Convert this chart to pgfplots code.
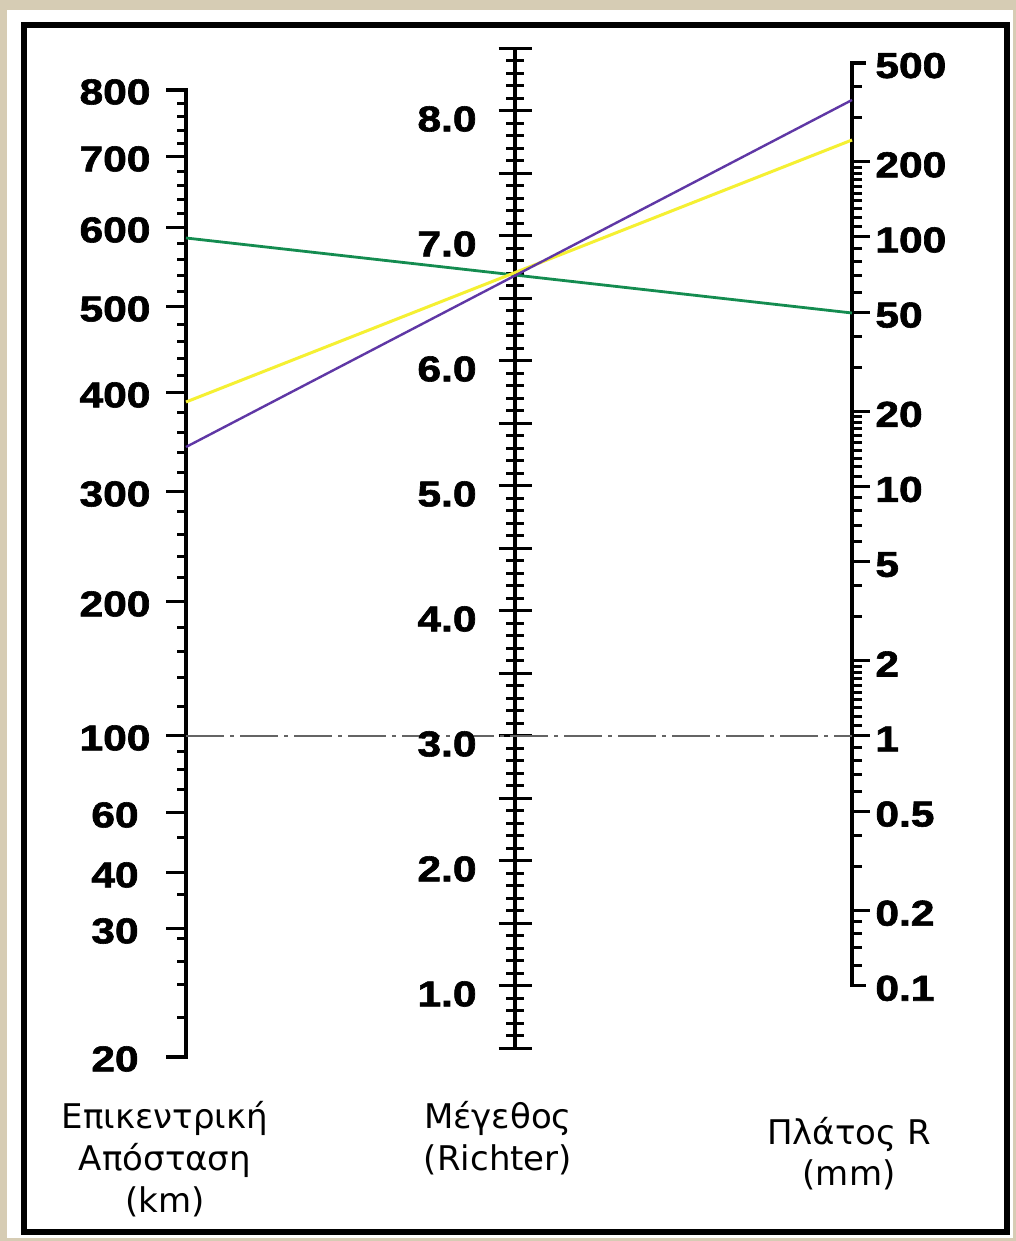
\documentclass[border=0pt]{standalone}
\usepackage{fontspec}
\setmainfont{Liberation Sans}
\newfontfamily\numf[BoldFeatures={FakeBold=1.6}]{Liberation Sans}
\newfontfamily\grk{DejaVu Sans}
\usepackage{pgfplots}
\pgfplotsset{compat=1.18}
\definecolor{bgbeige}{RGB}{214,204,180}
\definecolor{lgreen}{RGB}{20,140,80}
\definecolor{lyellow}{RGB}{245,240,50}
\definecolor{lpurple}{RGB}{95,55,165}
\definecolor{dashgray}{RGB}{100,100,100}
\newcommand{\num}[1]{\scalebox{1.18}[1]{\numf\fontsize{18}{20}\selectfont\bfseries #1}}
\newcommand{\gt}{\grk\fontsize{17}{20}\selectfont}
\begin{document}
\begin{tikzpicture}
\begin{scope}[x=0.5pt,y=-0.5pt,yshift=620.5pt]
\fill[bgbeige] (0,0) rectangle (1016,1241);
\fill[white] (7,10) rectangle (1013,1238);
\draw[line width=3pt] (24,25) rectangle (1007,1232);
% left scale
\draw[line width=1.75pt] (166,90) -- (186,90) -- (186,1057) -- (166,1057);
\foreach \yy in {157,228,307,393,492,602,736,813,873,929}
  \draw[line width=1.5pt] (166,\yy) -- (186,\yy);
\foreach \yy in {103.4,116.8,130.2,143.6,171.2,185.4,199.6,213.8,243.8,259.6,275.4,291.2,324.2,341.4,358.6,375.8,412.8,432.6,452.4,472.2,512,535,557,578,628,652,678,707,752,770,790,838,895,939,962,985,1018}
  \draw[line width=1.5pt] (177,\yy) -- (186,\yy);
% middle scale
\draw[line width=2pt] (515,48.5) -- (515,1048.5);
\foreach \i in {5,...,85}{
  \pgfmathsetmacro\yy{1111-12.5*\i}
  \pgfmathsetmacro\hl{ifthenelse(mod(\i,5)==0,16.5,9)}
  \draw[line width=1.5pt] (515-\hl,\yy) -- (515+\hl,\yy);
}
% right scale
\draw[line width=1.75pt] (866,63) -- (852,63) -- (852,985.5) -- (866,985.5);
\foreach \v in {200,100,50,20,10,5,2,1,0.5,0.2}{
  \pgfmathsetmacro\yy{736-249.5*log10(\v)}
  \draw[line width=1.5pt] (852,\yy) -- (870,\yy);
}
\foreach \v in {400,300,190,180,170,160,150,140,130,120,110,90,80,70,60,40,30,19,18,17,16,15,14,13,12,11,9,8,7,6,4,3,1.9,1.8,1.7,1.6,1.5,1.4,1.3,1.2,1.1,0.9,0.8,0.7,0.6,0.4,0.3,0.18,0.16,0.14,0.12}{
  \pgfmathsetmacro\yy{736-249.5*log10(\v)}
  \draw[line width=1.5pt] (852,\yy) -- (862,\yy);
}
\end{scope}
\begin{axis}[at={(0,0)}, anchor=south west, scale only axis, width=508pt, height=620.5pt,
  xmin=0, xmax=1016, ymin=0, ymax=1241, y dir=reverse, axis lines=none, clip=false]
\addplot[dashgray, line width=1.1pt, dash pattern=on 19pt off 3pt on 2pt off 3pt] coordinates {(186,736) (852,736)};
\addplot[lgreen, line width=1.4pt] coordinates {(186,238) (852,313)};
\addplot[lyellow, line width=1.5pt] coordinates {(186,402) (852,140)};
\addplot[lpurple, line width=1.2pt] coordinates {(186,447) (852,100)};
\end{axis}
\begin{scope}[x=0.5pt,y=-0.5pt,yshift=620.5pt]
\foreach \lab/\yy in {800/90,700/157,600/228,500/307,400/393,300/492,200/602,100/736,60/813,40/873,30/929,20/1057}
  \node at (115,\yy+2) {\num{\lab}};
\foreach \lab/\yy in {8.0/111,7.0/236,6.0/361,5.0/486,4.0/611,3.0/736,2.0/861,1.0/986}
  \node at (447,\yy+8) {\num{\lab}};
\foreach \lab/\v in {500/500,200/200,100/100,50/50,20/20,10/10,5/5,2/2,1/1,0.5/0.5,0.2/0.2,0.1/0.1}{
  \pgfmathsetmacro\yy{736-249.5*log10(\v)+3}
  \node[anchor=west, inner xsep=0pt] at (875,\yy) {\num{\lab}};
}
\node at (165,1118) {\gt Επικεντρική};
\node at (165,1160) {\gt Απόσταση};
\node at (165,1202) {\gt (km)};
\node at (498,1118) {\gt Μέγεθος};
\node at (498,1160) {\gt (Richter)};
\node at (849,1134) {\gt Πλάτος R};
\node at (849,1175) {\gt (mm)};
\end{scope}
\end{tikzpicture}
\end{document}
